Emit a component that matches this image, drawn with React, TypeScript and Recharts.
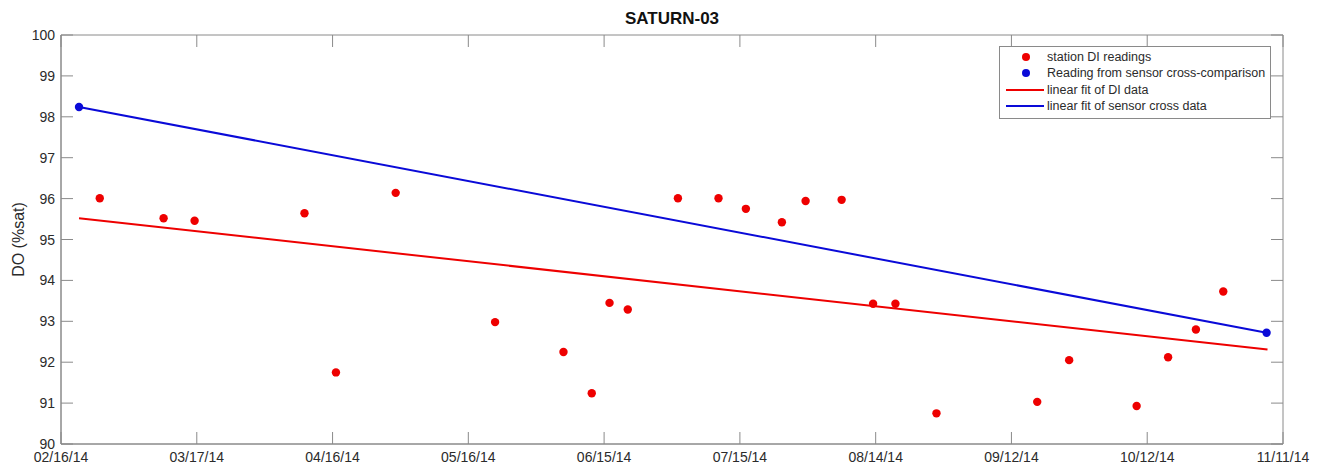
import React from 'react';
import { ScatterChart, Scatter, XAxis, YAxis, ReferenceArea, Legend } from 'recharts';

// x values are days since 02/16/14
const xTickDays = [0, 29.78, 59.56, 89.33, 119.11, 148.89, 178.67, 208.44, 238.22, 268];
const xTickLabels = ['02/16/14', '03/17/14', '04/16/14', '05/16/14', '06/15/14', '07/15/14', '08/14/14', '09/12/14', '10/12/14', '11/11/14'];
const yTicks = [90, 91, 92, 93, 94, 95, 96, 97, 98, 99, 100];

const diDays = [8.5, 22.5, 29.3, 53.4, 60.3, 73.4, 95.2, 110.2, 116.4, 120.3, 124.3, 135.3, 144.2, 150.2, 158.1, 163.3, 171.2, 178.1, 183.0, 192.0, 214.1, 221.1, 235.9, 242.8, 248.9, 254.9];
const diValues = [96.01, 95.52, 95.46, 95.64, 91.75, 96.14, 92.98, 92.25, 91.24, 93.45, 93.29, 96.01, 96.01, 95.75, 95.42, 95.94, 95.97, 93.43, 93.43, 90.75, 91.03, 92.05, 90.93, 92.12, 92.8, 93.73];

const crossDays = [3.95, 264.4];
const crossValues = [98.24, 92.72];

const diFitDays = [3.95, 264.6];
const diFitValues = [95.52, 92.31];
const crossFitDays = [3.95, 264.4];
const crossFitValues = [98.24, 92.72];

const diData = diDays.map((day, i) => ({ day, value: diValues[i] }));
const crossData = crossDays.map((day, i) => ({ day, value: crossValues[i] }));
const diFit = diFitDays.map((day, i) => ({ day, value: diFitValues[i] }));
const crossFit = crossFitDays.map((day, i) => ({ day, value: crossFitValues[i] }));

const RED = '#ee0000';
const BLUE = '#0a0ad8';
const AXIS = '#8a8a8a';
const TEXT = '#2b2b2b';
const FONT = '"Liberation Sans", Arial, sans-serif';

const WIDTH = 1319;
const HEIGHT = 466;
const PLOT_TOP = 35;
const PLOT_RIGHT = 1283;
const TICK_LEN = 12;

const legendItems = [
  { label: 'station DI readings', color: RED, kind: 'dot' },
  { label: 'Reading from sensor cross-comparison', color: BLUE, kind: 'dot' },
  { label: 'linear fit of DI data', color: RED, kind: 'line' },
  { label: 'linear fit of sensor cross data', color: BLUE, kind: 'line' },
];

const XTick = (props: any) => {
  const { x, y, index } = props;
  return (
    <g>
      <line x1={x} x2={x} y1={y} y2={y - TICK_LEN} stroke={AXIS} />
      <line x1={x} x2={x} y1={PLOT_TOP} y2={PLOT_TOP + TICK_LEN} stroke={AXIS} />
      <text x={x} y={y + 18} textAnchor="middle" fill={TEXT} fontSize={14} fontFamily={FONT}>
        {xTickLabels[index]}
      </text>
    </g>
  );
};

const YTick = (props: any) => {
  const { x, y, payload } = props;
  return (
    <g>
      <line x1={x} x2={x + TICK_LEN} y1={y} y2={y} stroke={AXIS} />
      <line x1={PLOT_RIGHT - TICK_LEN} x2={PLOT_RIGHT} y1={y} y2={y} stroke={AXIS} />
      <text x={x - 6} y={y} dy={5} textAnchor="end" fill={TEXT} fontSize={14} fontFamily={FONT}>
        {payload.value}
      </text>
    </g>
  );
};

const YLabel = (props: any) => {
  const { viewBox } = props;
  const cy = viewBox.y + viewBox.height / 2;
  return (
    <text
      transform={`translate(18, ${cy}) rotate(-90)`}
      textAnchor="middle"
      dominantBaseline="central"
      fill={TEXT}
      fontSize={16}
      fontFamily={FONT}
    >
      DO (%sat)
    </text>
  );
};

const renderLegend = () => (
  <div
    style={{
      border: `1px solid ${AXIS}`,
      background: '#fff',
      width: 270,
      height: 69,
      paddingTop: 2,
      boxSizing: 'content-box',
      fontFamily: FONT,
      fontSize: 12.5,
      color: TEXT,
    }}
  >
    {legendItems.map((item) => (
      <div key={item.label} style={{ height: 16.3, display: 'flex', alignItems: 'center' }}>
        <svg width={47} height={16} style={{ flex: 'none' }}>
          {item.kind === 'dot' ? (
            <circle cx={26} cy={8} r={4} fill={item.color} />
          ) : (
            <line x1={6} x2={44} y1={8} y2={8} stroke={item.color} strokeWidth={2} />
          )}
        </svg>
        <span style={{ whiteSpace: 'nowrap' }}>{item.label}</span>
      </div>
    ))}
  </div>
);

export default function App() {
  return (
    <div style={{ position: 'absolute', left: 0, top: 0, width: WIDTH, height: HEIGHT, background: '#fff' }}>
      <div
        style={{
          position: 'absolute',
          left: 61,
          width: PLOT_RIGHT - 61,
          top: 9,
          textAlign: 'center',
          fontFamily: FONT,
          fontWeight: 'bold',
          fontSize: 17,
          color: '#111',
        }}
      >
        SATURN-03
      </div>
      <ScatterChart width={WIDTH} height={HEIGHT} margin={{ top: PLOT_TOP, right: WIDTH - PLOT_RIGHT, bottom: 0, left: 0 }}>
        <XAxis
          type="number"
          dataKey="day"
          domain={[0, 268]}
          ticks={xTickDays}
          interval={0}
          height={22}
          tickSize={0}
          tickMargin={0}
          tickLine={false}
          axisLine={{ stroke: AXIS }}
          tick={<XTick />}
          allowDataOverflow
        />
        <YAxis
          type="number"
          dataKey="value"
          domain={[90, 100]}
          ticks={yTicks}
          interval={0}
          width={61}
          tickSize={0}
          tickMargin={0}
          tickLine={false}
          axisLine={{ stroke: AXIS }}
          tick={<YTick />}
          label={<YLabel />}
          allowDataOverflow
        />
        <ReferenceArea x1={0} x2={268} y1={90} y2={100} fill="none" stroke={AXIS} strokeWidth={1} ifOverflow="visible" />
        <Scatter
          data={diFit}
          line={{ stroke: RED, strokeWidth: 2 }}
          shape={() => <g />}
          isAnimationActive={false}
          legendType="none"
        />
        <Scatter
          data={crossFit}
          line={{ stroke: BLUE, strokeWidth: 2 }}
          shape={() => <g />}
          isAnimationActive={false}
          legendType="none"
        />
        <Scatter data={diData} fill={RED} shape={(p: any) => <circle cx={p.cx} cy={p.cy} r={4.2} fill={RED} />} isAnimationActive={false} />
        <Scatter data={crossData} fill={BLUE} shape={(p: any) => <circle cx={p.cx} cy={p.cy} r={4.2} fill={BLUE} />} isAnimationActive={false} />
        <Legend
          layout="vertical"
          align="center"
          verticalAlign="middle"
          content={renderLegend}
          wrapperStyle={{ left: 999, top: 46, width: 272 }}
        />
      </ScatterChart>
    </div>
  );
}
